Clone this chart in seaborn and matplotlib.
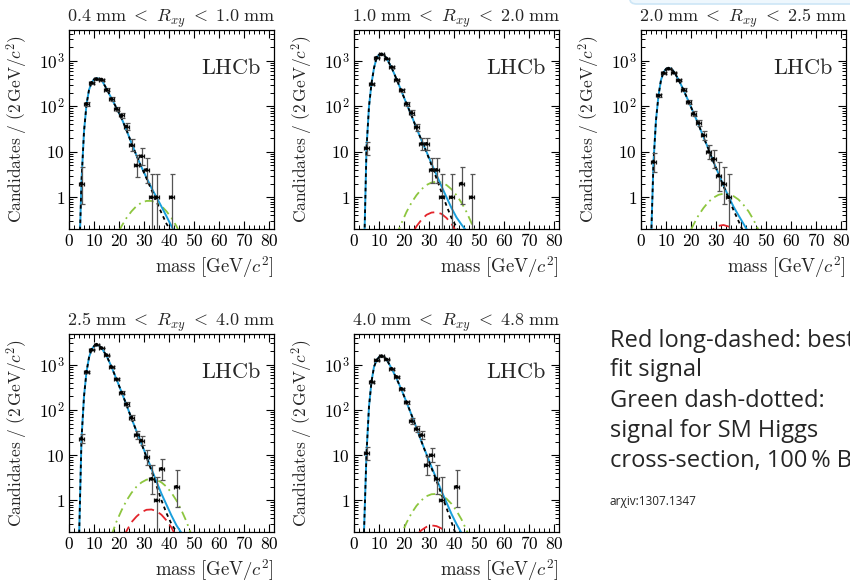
import numpy as np
import pandas as pd
import matplotlib
matplotlib.use("Agg")
import matplotlib.pyplot as plt
import seaborn as sns
from matplotlib.ticker import FixedLocator, FixedFormatter, MultipleLocator, LogLocator, NullFormatter
from matplotlib.patches import FancyBboxPatch

# ---------------- data ----------------
r_low = ["0.4", "1.0", "2.0", "2.5", "4.0"]
r_high = ["1.0", "2.0", "2.5", "4.0", "4.8"]

bin_mass = [5, 7, 9, 11, 13, 15, 17, 19, 21, 23, 25, 27, 29, 31, 33, 35, 37, 39, 41, 43, 45, 47]
counts_04_10 = [2, 114, 330, 400, 390, 232, 145, 88, 63, 36, 14, 5, 8, 4, 1, 1, 0, 0, 1, 0, 0, 0]
counts_10_20 = [12, 310, 1180, 1400, 1130, 735, 387, 226, 114, 72, 35, 15, 15, 4, 4, 1, 0, 1, 0, 2, 0, 1]
counts_20_25 = [6, 174, 545, 677, 553, 374, 232, 124, 69, 43, 23, 10, 7, 3, 2, 1, 0, 0, 0, 0, 0, 0]
counts_25_40 = [23, 700, 2150, 2780, 2350, 1640, 890, 480, 243, 134, 68, 28, 21, 9, 3, 1, 5, 0, 0, 2, 0, 0]
counts_40_48 = [11, 425, 1250, 1560, 1310, 815, 540, 293, 148, 57, 38, 28, 6, 10, 3, 1, 0, 0, 2, 0, 0, 0]

curve_mass = [4.0, 5, 6, 7, 8, 9, 10, 11, 12, 13, 15, 17, 19, 21, 23, 25, 27, 29, 31, 33, 35, 37, 39, 41, 43, 45, 47]
total_04_10 = [0.03, 2.3, 28, 110, 230, 330, 395, 415, 410, 385, 245, 150, 92, 55, 30, 15.5, 8.3, 4.6, 2.7, 1.6, 1.0, 0.62, 0.38, 0.23, 0.14, 0.09, 0.06]
bkg_04_10 = [0.03, 2.3, 28, 110, 230, 330, 395, 415, 410, 385, 245, 150, 92, 55, 30, 15.5, 8.3, 4.6, 2.6, 1.45, 0.8, 0.45, 0.26, 0.17, 0.1, 0.06, 0.035]
total_10_20 = [0.05, 12, 100, 320, 700, 1150, 1380, 1430, 1350, 1150, 720, 400, 215, 115, 63, 33, 18, 10, 5.5, 3.1, 1.75, 1.0, 0.58, 0.36, 0.25, 0.18, 0.12]
bkg_10_20 = [0.05, 12, 100, 320, 700, 1150, 1380, 1430, 1350, 1150, 720, 400, 215, 115, 63, 33, 18, 9.8, 5.1, 2.6, 1.3, 0.65, 0.35, 0.22, 0.13, 0.07, 0.04]
total_20_25 = [0.1, 6, 50, 175, 380, 560, 670, 700, 680, 600, 390, 230, 130, 72, 40, 21, 11.5, 6.0, 3.3, 1.8, 1.05, 0.62, 0.4, 0.26, 0.17, 0.11, 0.07]
bkg_20_25 = [0.1, 6, 50, 175, 380, 560, 670, 700, 680, 600, 390, 230, 130, 72, 40, 21, 11.5, 6.0, 3.2, 1.75, 0.95, 0.52, 0.3, 0.17, 0.1, 0.06, 0.035]
total_25_40 = [0.13, 23, 200, 700, 1450, 2150, 2600, 2750, 2650, 2350, 1600, 900, 480, 250, 130, 65, 34, 18, 9.5, 5.0, 2.6, 1.4, 0.8, 0.46, 0.28, 0.19, 0.12]
bkg_25_40 = [0.13, 23, 200, 700, 1450, 2150, 2600, 2750, 2650, 2350, 1600, 900, 480, 250, 130, 65, 34, 18, 9.0, 4.5, 2.1, 1.0, 0.52, 0.3, 0.2, 0.12, 0.07]
total_40_48 = [0.2, 11, 120, 425, 900, 1250, 1480, 1560, 1500, 1320, 840, 500, 280, 150, 78, 40, 20, 10.5, 5.5, 3.0, 1.6, 0.9, 0.5, 0.3, 0.19, 0.12, 0.08]
bkg_40_48 = [0.2, 11, 120, 425, 900, 1250, 1480, 1560, 1500, 1320, 840, 500, 280, 150, 78, 40, 20, 10.2, 5.2, 2.7, 1.35, 0.68, 0.33, 0.16, 0.09, 0.05, 0.03]

signal_mass = [17, 19, 21, 23, 25, 27, 29, 31, 33, 35, 37, 39, 41, 43, 45, 47, 49]
sm_04_10 = [0.073, 0.136, 0.23, 0.35, 0.49, 0.64, 0.76, 0.83, 0.83, 0.76, 0.64, 0.49, 0.35, 0.23, 0.136, 0.073, 0.037]
fit_04_10 = None
sm_10_20 = [0.145, 0.27, 0.475, 0.76, 1.11, 1.5, 1.86, 2.11, 2.2, 2.11, 1.86, 1.5, 1.11, 0.76, 0.475, 0.27, 0.145]
fit_10_20 = [0.02, 0.044, 0.086, 0.149, 0.23, 0.32, 0.41, 0.46, 0.47, 0.43, 0.35, 0.26, 0.17, 0.10, 0.054, 0.026, 0.011]
sm_20_25 = [0.079, 0.147, 0.25, 0.40, 0.58, 0.79, 0.98, 1.13, 1.2, 1.17, 1.06, 0.89, 0.68, 0.49, 0.32, 0.19, 0.11]
fit_20_25 = [0.0064, 0.015, 0.033, 0.061, 0.10, 0.152, 0.2, 0.235, 0.245, 0.227, 0.187, 0.137, 0.089, 0.051, 0.026, 0.012, 0.005]
sm_25_40 = [0.17, 0.34, 0.60, 0.99, 1.47, 2.01, 2.5, 2.87, 3.0, 2.87, 2.5, 2.01, 1.47, 0.99, 0.60, 0.34, 0.17]
fit_25_40 = [0.035, 0.07, 0.13, 0.21, 0.33, 0.44, 0.55, 0.62, 0.63, 0.58, 0.48, 0.36, 0.25, 0.15, 0.085, 0.043, 0.02]
sm_40_48 = [0.095, 0.18, 0.32, 0.52, 0.76, 1.01, 1.24, 1.37, 1.39, 1.29, 1.09, 0.84, 0.59, 0.38, 0.22, 0.117, 0.057]
fit_40_48 = [0.021, 0.041, 0.073, 0.117, 0.168, 0.22, 0.26, 0.28, 0.27, 0.24, 0.19, 0.137, 0.089, 0.052, 0.028, 0.014, 0.006]

x_ticks = [0, 10, 20, 30, 40, 50, 60, 70, 80]
y_ticks = [1, 10, 100, 1000]
y_tick_labels = ["$1$", "$10$", "$10^2$", "$10^3$"]

note_lines = ["Red long-dashed: best", "fit signal", "Green dash-dotted:",
              "signal for SM Higgs", "cross-section, 100\u2009% BR"]
note_ref = "ar\u03c7iv:1307.1347"

# ---------------- style ----------------
sns.set_theme(style="ticks")
plt.rcParams.update({
    "font.family": ["DejaVu Serif"],
    "mathtext.fontset": "cm",
    "xtick.direction": "in", "ytick.direction": "in",
    "xtick.top": True, "ytick.right": True,
    "xtick.major.size": 5.5, "ytick.major.size": 5.5,
    "xtick.minor.size": 2.8, "ytick.minor.size": 2.8,
    "xtick.major.width": 0.8, "ytick.major.width": 0.8,
    "xtick.minor.width": 0.7, "ytick.minor.width": 0.7,
    "axes.linewidth": 0.9,
    "axes.edgecolor": "black",
    "xtick.color": "black", "ytick.color": "black",
})

BLUE = "#1a9fdc"
GREEN = "#8dc63f"
RED = "#e3242b"

W, H = 850, 582
fig = plt.figure(figsize=(W / 100, H / 100), dpi=100)
fig.patch.set_facecolor("white")

def rect(left, top, right, bottom):
    return [left / W, 1 - bottom / H, (right - left) / W, (bottom - top) / H]

rects = [rect(69, 30, 274, 229), rect(354, 30, 559, 229), rect(641, 30, 846, 229),
         rect(69, 334, 274, 532), rect(354, 334, 559, 532)]
counts_all = [counts_04_10, counts_10_20, counts_20_25, counts_25_40, counts_40_48]
total_all = [total_04_10, total_10_20, total_20_25, total_25_40, total_40_48]
bkg_all = [bkg_04_10, bkg_10_20, bkg_20_25, bkg_25_40, bkg_40_48]
sm_all = [sm_04_10, sm_10_20, sm_20_25, sm_25_40, sm_40_48]
fit_all = [fit_04_10, fit_10_20, fit_20_25, fit_25_40, fit_40_48]

for i in range(5):
    ax = fig.add_axes(rects[i])
    ax.set_yscale("log")
    ax.set_xlim(0, 82)
    ax.set_ylim(0.2, 4800)

    # signal curves
    sns.lineplot(x=signal_mass, y=sm_all[i], ax=ax, color=GREEN, lw=1.3,
                 linestyle=(0, (5, 2.5, 1, 2.5)), estimator=None, sort=False)
    if fit_all[i] is not None:
        sns.lineplot(x=signal_mass, y=fit_all[i], ax=ax, color=RED, lw=1.3,
                     linestyle=(0, (6, 3)), estimator=None, sort=False)
    # total and background
    sns.lineplot(x=curve_mass, y=total_all[i], ax=ax, color=BLUE, lw=1.4,
                 estimator=None, sort=False)
    sns.lineplot(x=curve_mass, y=bkg_all[i], ax=ax, color="black", lw=1.3,
                 linestyle=(0, (2, 2)), estimator=None, sort=False)

    # data with Poisson (Gehrels) errors
    df = pd.DataFrame({"m": bin_mass, "n": counts_all[i]})
    df = df[df.n > 0]
    n = df.n.to_numpy(dtype=float)
    lo = n * (1 - 1 / (9 * n) - 1 / (3 * np.sqrt(n))) ** 3
    hi = n + 1 + np.sqrt(n + 0.75)
    ax.errorbar(df.m, n, yerr=[n - lo, hi - n], fmt="none",
                ecolor="#555555", elinewidth=0.9, capsize=1.8, capthick=0.9, zorder=5)
    ax.errorbar(df.m, n, xerr=1.0, fmt="none",
                ecolor="#111111", elinewidth=1.0, capsize=1.6, capthick=0.9, zorder=5)
    sns.scatterplot(x=df.m, y=n, ax=ax, color="black", s=7, marker="o",
                    edgecolor="none", zorder=6, legend=False)

    ax.xaxis.set_major_locator(FixedLocator(x_ticks))
    ax.xaxis.set_major_formatter(FixedFormatter([f"${t}$" for t in x_ticks]))
    ax.xaxis.set_minor_locator(MultipleLocator(2))
    ax.yaxis.set_major_locator(FixedLocator(y_ticks))
    ax.yaxis.set_major_formatter(FixedFormatter(y_tick_labels))
    ax.yaxis.set_minor_locator(LogLocator(base=10, subs=np.arange(2, 10)))
    ax.yaxis.set_minor_formatter(NullFormatter())
    ax.tick_params(axis="both", which="major", labelsize=12.5, pad=3)

    ax.set_title(rf"${r_low[i]}\ \mathrm{{mm}}\ <\ R_{{xy}}\ <\ {r_high[i]}\ \mathrm{{mm}}$",
                 fontsize=13, pad=5)
    ax.set_ylabel(r"$\mathrm{Candidates\ /\ (2\,GeV}/c^2)$", fontsize=12.5, va="center")
    ax.yaxis.set_label_coords(-0.25, 0.5)
    ax.set_xlabel(r"$\mathrm{mass\ [GeV}/c^2]$", fontsize=13.5, ha="right")
    ax.xaxis.set_label_coords(1.0, -0.19)
    ax.xaxis.label.set_va("center")
    ax.text(0.935, 0.81, r"$\mathrm{LHCb}$", transform=ax.transAxes,
            ha="right", va="center", fontsize=16)

# notes at the right
ys = [341, 370, 401, 431, 461]
for t, y in zip(note_lines, ys):
    fig.text(610 / W, 1 - y / H, t, family="Open Sans", fontsize=17, va="center", ha="left")
fig.text(610 / W, 1 - 501 / H, note_ref, family="Open Sans", fontsize=8.5, va="center", ha="left")

# faint slide box at the top right
fig.patches.append(FancyBboxPatch((630 / W, 1 - 4 / H), 260 / W, 30 / H,
                                  boxstyle="round,pad=0,rounding_size=0.008",
                                  transform=fig.transFigure, fc="#eef7fd", ec="#cde6f6", lw=1.2))

fig.savefig("out.png", dpi=100)
